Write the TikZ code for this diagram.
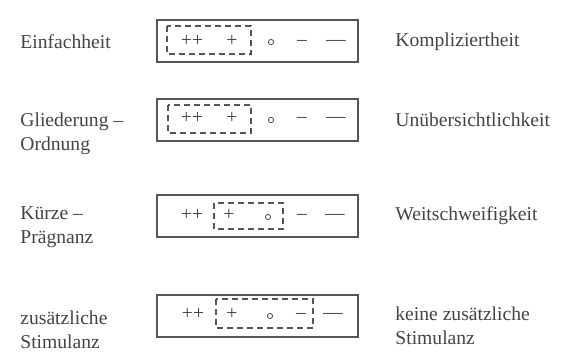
\documentclass[tikz,border=0pt]{standalone}
\usepackage{fontspec}
\setmainfont{Liberation Serif}
\definecolor{ink}{HTML}{444444}
\definecolor{lineink}{HTML}{555555}
\begin{document}
\begin{tikzpicture}[x=0.5pt,y=-0.5pt,
  lbl/.style={font=\fontsize{9.8}{11.8}\selectfont, text=ink, inner sep=0pt, align=left, anchor=west},
  sym/.style={font=\fontsize{9.8}{11.8}\selectfont, text=ink, inner sep=0pt},
  scalebox/.style={draw=lineink, line width=1pt},
  dashbox/.style={draw=lineink, line width=0.75pt, dash pattern=on 3pt off 2pt},
  ring/.style={circle, draw=lineink, line width=0.45pt, inner sep=0pt, minimum size=2.6pt}]
\useasboundingbox (0,0) rectangle (572,352);
\fill[white] (0,0) rectangle (572,352);

% row 1
\node[lbl] (l1) at (20,42) {Einfachheit};
\node[lbl] (r1) at (395,42) {Kompliziertheit};
\draw[scalebox] (157,20) rectangle (358,62);
\draw[dashbox] (167,26) rectangle (251,54);
\node[sym] (a1) at (192,41) {++};
\node[sym] (b1) at (232,41) {+};
\node[ring] (c1) at (271,42) {};
\node[sym] (d1) at (302,43) {–};
\node[sym] (e1) at (336,43) {—};

% row 2
\node[lbl] (l2) at (20,134) {Gliederung –\\Ordnung};
\node[lbl] (r2) at (395,120) {Unübersichtlichkeit};
\draw[scalebox] (157,99) rectangle (358,141);
\draw[dashbox] (168,105) rectangle (251,133);
\node[sym] (a2) at (192,118) {++};
\node[sym] (b2) at (232,118) {+};
\node[ring] (c2) at (271,120) {};
\node[sym] (d2) at (302,120) {–};
\node[sym] (e2) at (336,120) {—};

% row 3
\node[lbl] (l3) at (20,227) {Kürze –\\Prägnanz};
\node[lbl] (r3) at (395,216) {Weitschweifigkeit};
\draw[scalebox] (157,195) rectangle (358,237);
\draw[dashbox] (214,203) rectangle (283,229);
\node[sym] (a3) at (192,215) {++};
\node[sym] (b3) at (229,215) {+};
\node[ring] (c3) at (268,217) {};
\node[sym] (d3) at (302,217) {–};
\node[sym] (e3) at (335,217) {—};

% row 4
\node[lbl] (l4) at (20,330) {zusätzliche\\Stimulanz};
\node[lbl] (r4) at (395,326) {keine zusätzliche\\Stimulanz};
\draw[scalebox] (157,295) rectangle (358,337);
\draw[dashbox] (216,299) rectangle (313,328);
\node[sym] (a4) at (193,314) {++};
\node[sym] (b4) at (232,314) {+};
\node[ring] (c4) at (270,316) {};
\node[sym] (d4) at (301,316) {–};
\node[sym] (e4) at (333,316) {—};
\end{tikzpicture}
\end{document}
